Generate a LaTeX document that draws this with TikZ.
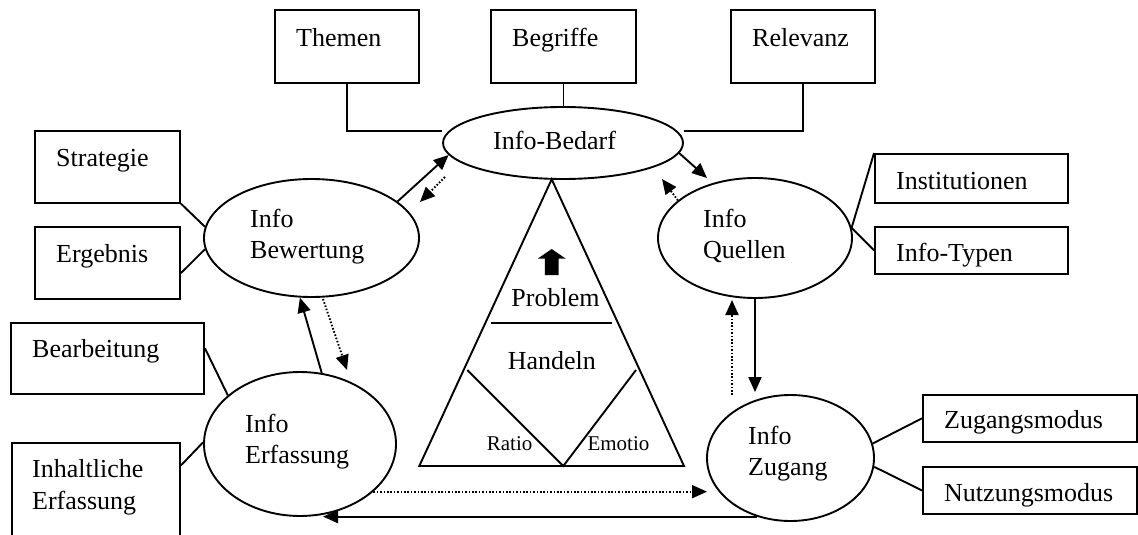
\documentclass[tikz,border=0pt]{standalone}
\usepackage{fontspec}
\setmainfont{Liberation Serif}
\usetikzlibrary{arrows.meta,shapes.geometric,calc}
\begin{document}
\begin{tikzpicture}[x=1pt,y=-1pt,
  box/.style={draw, line width=1.9pt, rectangle, inner sep=0pt},
  ell/.style={draw, line width=1.9pt, ellipse, inner sep=0pt},
  txt/.style={anchor=base west, inner sep=0pt, font=\fontsize{26}{31}\selectfont},
  ctxt/.style={anchor=base, inner sep=0pt, font=\fontsize{26}{31}\selectfont},
  stxt/.style={anchor=base west, inner sep=0pt, font=\fontsize{21}{25}\selectfont},
  conn/.style={line width=1.9pt},
  arr/.style={line width=1.9pt, -{Triangle[length=15pt,width=13pt]}},
  dotarr/.style={arr, dash pattern=on 1.6pt off 1.8pt},
]
\clip (0,0) rectangle (1138,535);
\useasboundingbox (0,0) rectangle (1138,535);

% boxes
\node[box, minimum width=144, minimum height=73] (them) at (347,46.5) {};
\node[box, minimum width=145, minimum height=73] (beg) at (563.5,46.5) {};
\node[box, minimum width=144, minimum height=73] (rel) at (803,46.5) {};
\node[box, minimum width=145, minimum height=72] (str) at (107.5,166.7) {};
\node[box, minimum width=145, minimum height=72.3] (erg) at (107.5,262.8) {};
\node[box, minimum width=193, minimum height=48.7] (inst) at (971.5,178.3) {};
\node[box, minimum width=193, minimum height=47.3] (typ) at (971.5,250.3) {};
\node[box, minimum width=193, minimum height=71] (bea) at (107.5,358.5) {};
\node[box, minimum width=168, minimum height=117] (ins) at (96,501.5) {};
\node[box, minimum width=214, minimum height=46.7] (zm) at (1030,418.3) {};
\node[box, minimum width=214, minimum height=47] (nm) at (1030,490.5) {};

% ellipses
\node[ell, minimum width=240, minimum height=72] (bed) at (563,143) {};
\node[ell, minimum width=215, minimum height=118] (bew) at (311.5,238) {};
\node[ell, minimum width=194, minimum height=120] (que) at (755,238) {};
\node[ell, minimum width=192, minimum height=144] (erf) at (300,444) {};
\node[ell, minimum width=167, minimum height=126] (zug) at (790.5,458) {};

% texts
\node[txt] (tThem) at (296,47) {Themen};
\node[txt] (tBeg) at (512,47) {Begriffe};
\node[txt] (tRel) at (752,47) {Relevanz};
\node[txt] (tBed) at (493,149) {Info-Bedarf};
\node[txt] (tStr) at (56,166) {Strategie};
\node[txt] (tErg) at (56,262) {Ergebnis};
\node[txt] (tBew1) at (250,227) {Info};
\node[txt] (tBew2) at (250,258) {Bewertung};
\node[txt] (tQue1) at (703,227) {Info};
\node[txt] (tQue2) at (703,258) {Quellen};
\node[txt] (tInst) at (896,189) {Institutionen};
\node[txt] (tTyp) at (896,261) {Info-Typen};
\node[txt] (tBea) at (32,357) {Bearbeitung};
\node[txt] (tIns1) at (32,477) {Inhaltliche};
\node[txt] (tIns2) at (32,509) {Erfassung};
\node[txt] (tErf1) at (245,432) {Info};
\node[txt] (tErf2) at (245,463) {Erfassung};
\node[txt] (tZug1) at (748,444) {Info};
\node[txt] (tZug2) at (748,475) {Zugang};
\node[txt] (tZm) at (944,428) {Zugangsmodus};
\node[txt] (tNm) at (944,501) {Nutzungsmodus};
\node[ctxt] (tProb) at (555.5,306.7) {Problem};
\node[ctxt] (tHand) at (551.8,369) {Handeln};
\node[stxt] (tRat) at (486.7,450.7) {Ratio};
\node[stxt] (tEmo) at (587.3,450.7) {Emotio};

% plain connectors
\draw[conn] (them.south) |- ([yshift=12pt]bed.west);
\draw[conn] (beg.south) -- (beg.south |- bed.north);
\draw[conn] (rel.south) |- ([yshift=12pt]bed.east);
\draw[conn] (str.south east) -- (bew.174);
\draw[conn] (erg.-8.6) -- (bew.186);
\draw[conn] (inst.north west) -- (que.6.6);
\draw[conn] (typ.west) -- (que.6.6);
\draw[conn] (bea.6.2) -- (erf.146);
\draw[conn] (ins.23) -- (erf.179);
\draw[conn] (zug.10) -- (zm.west);
\draw[conn] (zug.-6) -- (nm.west);

% arrows
\coordinate (d1a) at (445,177);
\coordinate (d1b) at (420,202);
\coordinate (q1) at (707,178);
\coordinate (d2b) at (662,179);
\coordinate (d3a) at (732,395);
\coordinate (d3b) at (732,300);
\coordinate (d4a) at (323,299);
\coordinate (d4b) at (347,370);
\coordinate (d5b) at (707,491);
\draw[arr] (bew.23) -- (bed.186);
\draw[dotarr] (d1a) -- (d1b);
\draw[arr] (bed.-5) -- (q1);
\draw[dotarr] (que.154) -- (d2b);
\draw[arr] (que.south) -- ([yshift=2pt]que.south |- zug.north);
\draw[dotarr] (d3a) -- (d3b);
\draw[arr] (erf.73) -- (bew.259);
\draw[dotarr] (d4a) -- (d4b);
\draw[dotarr] (erf.-33) -- (erf.-33 -| d5b);
\draw[arr] (zug.240) -- (zug.240 -| erf.-72);

% triangle
\draw[conn, line join=miter] (551.7,179.3) -- (684,466) -- (419.3,466) -- cycle;
\draw[conn] (491,322.7) -- (611.7,322.7);
\draw[conn] (467.3,370) -- (563.3,466) -- (636,370);
\fill (551.7,249) -- (565.5,258.5) -- (558.5,258.5) -- (558.5,275) -- (544.9,275)
  -- (544.9,258.5) -- (537.9,258.5) -- cycle;
\end{tikzpicture}
\end{document}
